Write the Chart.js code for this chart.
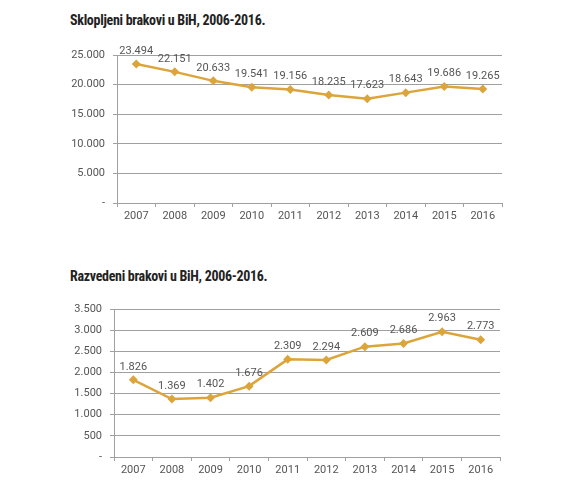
<!DOCTYPE html>
<html>
<head>
<meta charset="utf-8">
<script src="https://cdn.jsdelivr.net/npm/chart.js@4/dist/chart.umd.min.js"></script>
<style>
  html,body{margin:0;padding:0;background:#fff;}
  body{width:576px;height:485px;position:relative;overflow:hidden;font-family:"Roboto","Liberation Sans",sans-serif;}
  .title{position:absolute;left:70px;font-family:"Roboto Condensed","Liberation Sans Narrow","Roboto",sans-serif;font-weight:bold;font-size:14px;color:#222;letter-spacing:-0.3px;white-space:nowrap;}
  .wrap{position:absolute;left:0;width:576px;height:190px;}
</style>
</head>
<body>
<div class="title" style="top:12px;">Sklopljeni brakovi u BiH, 2006-2016.</div>
<div class="wrap" style="top:40px;"><canvas id="c1" width="576" height="190"></canvas></div>
<div class="title" style="top:268px;">Razvedeni brakovi u BiH, 2006-2016.</div>
<div class="wrap" style="top:290px;"><canvas id="c2" width="576" height="190"></canvas></div>
<script>
const years = ["2007","2008","2009","2010","2011","2012","2013","2014","2015","2016"];
const sklopljeni = [23494, 22151, 20633, 19541, 19156, 18235, 17623, 18643, 19686, 19265];
const razvedeni = [1826, 1369, 1402, 1676, 2309, 2294, 2609, 2686, 2963, 2773];
const yMax1 = 25000, yStep1 = 5000;
const yMax2 = 3500, yStep2 = 500;

const LINE = '#DCA53C';
const GRID = '#a0a0a0';
const TXT = '#555555';

function fmt(v){
  if (v === 0) return '-';
  const s = Math.round(v).toString();
  return s.replace(/\B(?=(\d{3})+(?!\d))/g, '.');
}

const labelPlugin = {
  id: 'valueLabels',
  afterDatasetsDraw(chart){
    const ctx = chart.ctx;
    const meta = chart.getDatasetMeta(0);
    const data = chart.data.datasets[0].data;
    ctx.save();
    ctx.font = '11px "Roboto", "Liberation Sans", sans-serif';
    ctx.fillStyle = TXT;
    ctx.textAlign = 'center';
    ctx.textBaseline = 'middle';
    meta.data.forEach((pt, i) => {
      ctx.fillText(fmt(data[i]), pt.x, pt.y - 13);
    });
    ctx.restore();
  }
};

function make(id, values, yMax, yStep, pad){
  new Chart(document.getElementById(id), {
    type: 'line',
    data: {
      labels: years,
      datasets: [{
        data: values,
        borderColor: LINE,
        backgroundColor: LINE,
        borderWidth: 2.5,
        pointStyle: 'rectRot',
        pointRadius: 4.5,
        pointHoverRadius: 4.5,
        pointBorderWidth: 0,
        tension: 0
      }]
    },
    options: {
      responsive: false,
      animation: false,
      events: [],
      layout: { padding: { top: pad.top, right: pad.right, left: 0, bottom: 0 } },
      plugins: { legend: { display: false }, tooltip: { enabled: false } },
      scales: {
        x: {
          offset: true,
          grid: { display: true, drawOnChartArea: false, drawTicks: true, tickLength: 4, color: GRID, offset: true },
          border: { display: true, color: GRID, width: 1 },
          ticks: { color: TXT, font: { size: 11, family: '"Roboto", "Liberation Sans", sans-serif' }, padding: 3, maxRotation: 0 },
          afterFit(s){ s.height = pad.xh; }
        },
        y: {
          min: 0, max: yMax,
          grid: { color: GRID, lineWidth: 1, drawTicks: true, tickLength: 4 },
          border: { display: true, color: GRID, width: 1 },
          ticks: { stepSize: yStep, color: TXT, font: { size: 11, family: '"Roboto", "Liberation Sans", sans-serif' }, padding: 8, callback: v => fmt(v) },
          afterFit(s){ s.width = pad.yw; }
        }
      }
    },
    plugins: [labelPlugin]
  });
}

make('c1', sklopljeni, yMax1, yStep1, { top: 15, right: 74, xh: 27, yw: 117 });
make('c2', razvedeni, yMax2, yStep2, { top: 19, right: 76, xh: 23, yw: 114 });
</script>
</body>
</html>
